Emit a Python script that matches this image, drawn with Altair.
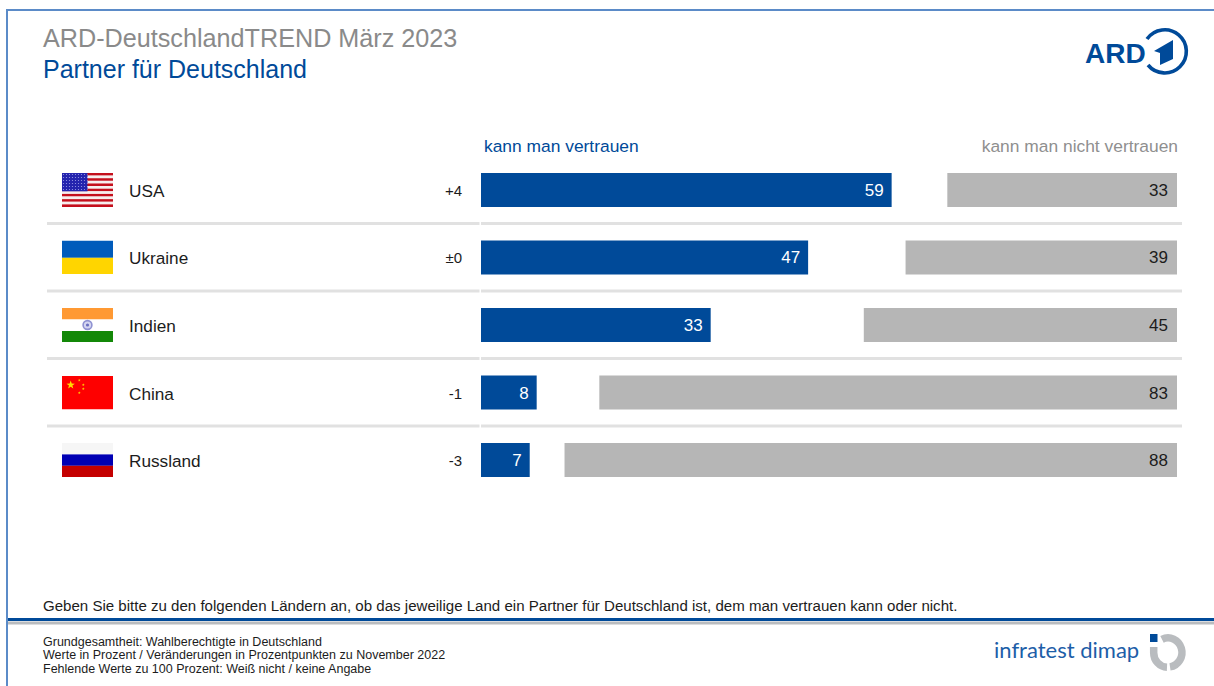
import math
from urllib.parse import quote

import altair as alt
import pandas as pd

# Survey values
countries = ["USA", "Ukraine", "Indien", "China", "Russland"]
trust = [59, 47, 33, 8, 7]
distrust = [33, 39, 45, 83, 88]
change = ["+4", "±0", None, "-1", "-3"]

title_top = "ARD-DeutschlandTREND März 2023"
title_sub = "Partner für Deutschland"
head_left = "kann man vertrauen"
head_right = "kann man nicht vertrauen"
question = ("Geben Sie bitte zu den folgenden Ländern an, ob das jeweilige Land "
            "ein Partner für Deutschland ist, dem man vertrauen kann oder nicht.")
notes = ["Grundgesamtheit: Wahlberechtigte in Deutschland",
         "Werte in Prozent / Veränderungen in Prozentpunkten zu November 2022",
         "Fehlende Werte zu 100 Prozent: Weiß nicht / keine Angabe"]

BLUE = "#004a99"
GREY = "#b6b6b6"
INK = "#1c1c1c"
FONT = "Liberation Sans"


def svg_uri(w, h, body):
    svg = (f'<svg xmlns="http://www.w3.org/2000/svg" width="{w}" height="{h}" '
           f'viewBox="0 0 {w} {h}">{body}</svg>')
    return "data:image/svg+xml," + quote(svg)


def star(cx, cy, r, fill):
    pts = []
    for i in range(10):
        rad = r if i % 2 == 0 else r * 0.4
        ang = -math.pi / 2 + i * math.pi / 5
        pts.append(f"{cx + rad * math.cos(ang):.2f},{cy + rad * math.sin(ang):.2f}")
    return f'<polygon points="{" ".join(pts)}" fill="{fill}"/>'


def band(y, h, fill):
    return f'<rect x="0" y="{y}" width="51" height="{h}" fill="{fill}"/>'


us_stripes = "".join(
    band(round(i * 34 / 13, 2), round(34 / 13, 2), "#c40f1c" if i % 2 == 0 else "#f6eeee")
    for i in range(13)
)
us_canton = (
    '<defs><pattern id="s" width="3" height="3" patternUnits="userSpaceOnUse">'
    '<rect width="3" height="3" fill="#2424ae"/>'
    '<circle cx="1.5" cy="1.5" r="0.6" fill="#9c9ce6"/></pattern></defs>'
    '<rect x="0" y="0" width="25.5" height="18.3" fill="url(#s)"/>'
)
flags = {
    "USA": us_stripes + us_canton,
    "Ukraine": band(0, 17.3, "#005bbb") + band(17.3, 16.7, "#ffd500"),
    "Indien": band(0, 11.5, "#ff9933") + band(11.5, 11.5, "#ffffff") + band(23, 11, "#138808")
    + '<circle cx="25.5" cy="17" r="4.4" fill="#d5d6f0" stroke="#8f92d2" stroke-width="1.6"/>'
    + '<circle cx="25.5" cy="17" r="1.6" fill="#6a6fc0"/>',
    "China": band(0, 34, "#fe0000") + star(8.7, 9.5, 4.4, "#ffde00")
    + star(17.3, 4.7, 1.5, "#ffc800") + star(21.3, 9.3, 1.5, "#ffc800")
    + star(21.3, 13.3, 1.5, "#ffc800") + star(17.3, 17.3, 1.5, "#ffc800"),
    "Russland": band(0, 11.4, "#f6f6f6") + band(11.4, 11.4, "#0000b4") + band(22.8, 11.2, "#c40000"),
}

ard_mark = svg_uri(56, 60, (
    f'<path d="M7 17 A21.6 21.6 0 1 1 8 43" fill="none" stroke="{BLUE}" stroke-width="3.6"/>'
    f'<polygon points="14,29 33,18 33,37 20,43 20,31" fill="{BLUE}"/>'
))
dimap_mark = svg_uri(56, 50, (
    f'<rect x="10" y="8" width="7.5" height="8" fill="{BLUE}"/>'
    '<path d="M22 13.3 A13.9 14.6 0 1 1 30 40.9" fill="none" stroke="#b9bcbf" stroke-width="7.5"/>'
    '<path d="M13.7 21 L13.7 26.7 A13.9 14.6 0 0 0 27 41.3" fill="none" stroke="#b9bcbf" stroke-width="7.5"/>'
))

df = pd.DataFrame({
    "country": countries,
    "trust": trust,
    "distrust": distrust,
    "change": change,
    "flag": [svg_uri(51, 34, flags[c]) for c in countries],
})

x_scale = alt.Scale(domain=[0, 100], range=[481, 1177], nice=False, zero=True)
y_scale = alt.Scale(type="band", domain=countries, range=[173, 477],
                    paddingInner=0.4963, paddingOuter=0)
X = lambda f: alt.X(f, scale=x_scale, axis=None)
Y = alt.Y("country:N", scale=y_scale, axis=None)

one = alt.Data(values=[{}])


def label(text, x, y, size, color=INK, align="left", **kw):
    return alt.Chart(one).mark_text(
        font=FONT, fontSize=size, color=color, align=align, baseline="alphabetic", **kw
    ).encode(x=alt.value(x), y=alt.value(y), text=alt.value(text))


def hline(x0, x1, y, color, width):
    return alt.Chart(one).mark_rule(color=color, strokeWidth=width).encode(
        x=alt.value(x0), x2=alt.value(x1), y=alt.value(y)
    )


def vline(x, y0, y1, color, width):
    return alt.Chart(one).mark_rule(color=color, strokeWidth=width).encode(
        x=alt.value(x), y=alt.value(y0), y2=alt.value(y1)
    )


base = alt.Chart(df)

layers = [
    # Page frame and footer rules
    hline(6, 1214, 10, "#5b8bc8", 2),
    vline(7, 9, 686, "#5b8bc8", 2),
    hline(8, 1214, 619.5, BLUE, 3),
    hline(8, 1214, 623, "#b9bcbf", 3),
]

# Row separators, interrupted where the bars begin
for sep_y in [223.5, 291, 358.5, 426]:
    layers.append(hline(47, 479.5, sep_y, "#e1e1e1", 3))
    layers.append(hline(481, 1182, sep_y, "#e1e1e1", 3))

layers += [
    # Bars: trust grows from the left edge, distrust from the right edge
    base.mark_bar(color=BLUE).encode(x=X("trust:Q"), y=Y),
    base.transform_calculate(start="100 - datum.distrust", end="100").mark_bar(color=GREY).encode(
        x=X("start:Q"), x2="end:Q", y=Y
    ),
    base.mark_text(font=FONT, fontSize=17, color="#ffffff", align="right", baseline="middle", dx=-8, dy=1).encode(
        x=X("trust:Q"), y=Y, text="trust:Q"
    ),
    base.transform_calculate(end="100").mark_text(
        font=FONT, fontSize=17, color=INK, align="right", baseline="middle", dx=-9, dy=1
    ).encode(x=X("end:Q"), y=Y, text="distrust:Q"),
    # Row captions
    base.mark_image(width=51, height=34, align="center", baseline="middle").encode(
        x=alt.value(87.5), y=Y, url="flag:N"
    ),
    base.mark_text(font=FONT, fontSize=17.2, color=INK, align="left", baseline="middle", dy=2).encode(
        x=alt.value(129), y=Y, text="country:N"
    ),
    base.transform_filter("datum.change != null").mark_text(
        font=FONT, fontSize=15, color=INK, align="right", baseline="middle", dy=1
    ).encode(x=alt.value(462), y=Y, text="change:N"),
    # Titles and column headings
    label(title_top, 43, 47, 25.2, "#8a8a8a"),
    label(title_sub, 43, 78, 25, BLUE),
    label(head_left, 484, 152, 17.4, BLUE),
    label(head_right, 1178, 152, 17.4, "#8f8f8f", align="right"),
    # Question wording and footnotes
    label(question, 43, 611, 15.07),
    label(notes[0], 43, 646, 12.5),
    label(notes[1], 43, 659, 12.5),
    label(notes[2], 43, 673, 12.5),
    # Logos
    label("ARD", 1085, 63, 28, BLUE, fontWeight="bold"),
    alt.Chart(one).mark_image(width=56, height=60, align="left", baseline="top").encode(
        x=alt.value(1140), y=alt.value(22), url=alt.value(ard_mark)
    ),
    alt.Chart(alt.Data(values=[{}])).mark_text(
        font="Lato", fontSize=22, color="#1d5ea8", align="left", baseline="alphabetic"
    ).encode(x=alt.value(994), y=alt.value(658), text=alt.value("infratest dimap")),
    alt.Chart(one).mark_image(width=56, height=50, align="left", baseline="top").encode(
        x=alt.value(1140), y=alt.value(626), url=alt.value(dimap_mark)
    ),
]

chart = alt.layer(*layers).properties(
    width=1214, height=686, padding=0,
    autosize=alt.AutoSizeParams(type="none"),
    background="#ffffff",
).configure_view(strokeWidth=0)

chart.save("out.html", embed_options={"renderer": "svg", "actions": False})
